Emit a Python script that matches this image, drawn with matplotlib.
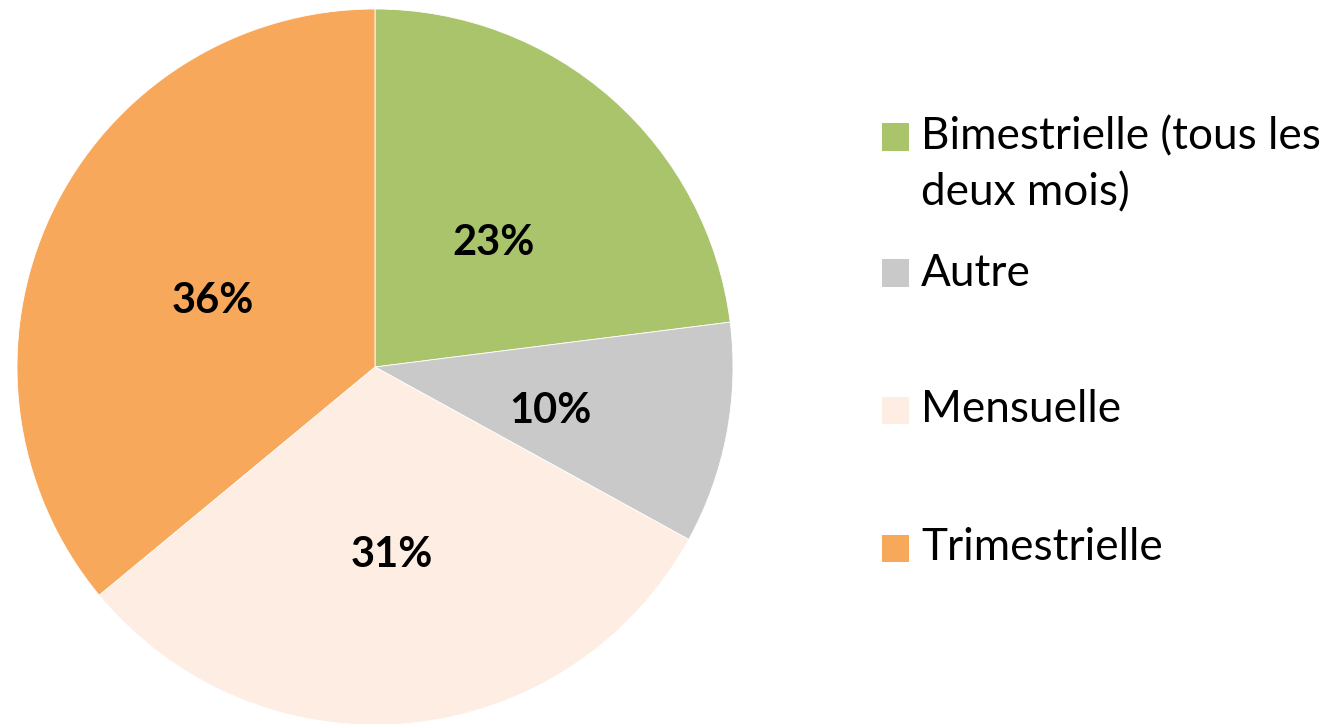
import matplotlib
matplotlib.use("Agg")
import matplotlib.pyplot as plt
from matplotlib.patches import Rectangle

categories = ["Bimestrielle (tous les\ndeux mois)", "Autre", "Mensuelle", "Trimestrielle"]
values = [23, 10, 31, 36]
colors = ["#A9C46B", "#C9C9C9", "#FDEDE2", "#F8A85A"]

plt.rcParams['font.family'] = ['Lato', 'DejaVu Sans']

W, H = 1337, 724
fig = plt.figure(figsize=(W / 100, H / 100), dpi=100)
R = 358
cx, cy = 375, 367
ax = fig.add_axes([(cx - R) / W, (H - cy - R) / H, 2 * R / W, 2 * R / H])
wedges, texts, autotexts = ax.pie(values, colors=colors, startangle=90, counterclock=False,
                                  autopct=lambda p: f"{p:.0f}%", pctdistance=0.5,
                                  wedgeprops=dict(edgecolor="white", linewidth=0.6),
                                  textprops=dict(fontsize=30, fontweight="bold", color="black"))
for t in autotexts:
    x, y = t.get_position()
    t.set_position((x, y - 0.028))
ax.set_xlim(-1, 1)
ax.set_ylim(-1, 1)
ax.set_aspect("equal")
ax.axis("off")

# legend drawn manually
row_y = [137, 273, 410, 548]  # pixel y centers of first lines
for lab, col, y in zip(categories, colors, row_y):
    fig.patches.append(Rectangle((882 / W, (H - y - 13.5) / H), 27 / W, 27 / H,
                                 transform=fig.transFigure, facecolor=col, edgecolor="none"))
    for i, ln in enumerate(lab.split("\n")):
        fig.text(921 / W, (H - (y + 56 * i)) / H, ln, fontsize=31.8, va="center", ha="left")

fig.savefig("out.png", dpi=100, facecolor="white")
